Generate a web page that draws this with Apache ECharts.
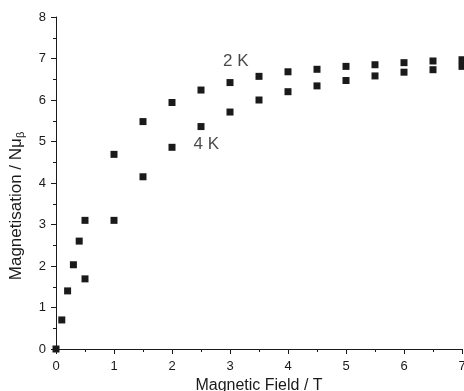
<!DOCTYPE html>
<html>
<head>
<meta charset="utf-8">
<script src="https://cdn.jsdelivr.net/npm/echarts@6/dist/echarts.min.js"></script>
<style>
  html, body { margin: 0; padding: 0; background: #fff; }
  #chart { width: 464px; height: 391px; }
</style>
</head>
<body>
<div id="chart"></div>
<script>
// field values (T) and magnetisation (N muB)
const field2K = [0, 0.1, 0.2, 0.3, 0.4, 0.5, 1, 1.5, 2, 2.5, 3, 3.5, 4, 4.5, 5, 5.5, 6, 6.5, 7];
const mag2K = [0, 0.70, 1.40, 2.03, 2.60, 3.10, 4.69, 5.48, 5.94, 6.24, 6.42, 6.57, 6.68, 6.74, 6.81, 6.85, 6.90, 6.94, 6.97];
const field4K = [0.5, 1, 1.5, 2, 2.5, 3, 3.5, 4, 4.5, 5, 5.5, 6, 6.5, 7];
const mag4K = [1.69, 3.10, 4.15, 4.86, 5.36, 5.71, 6.00, 6.20, 6.34, 6.47, 6.58, 6.67, 6.73, 6.81];
// curve labels, in data coordinates
const curveLabels = [
  { text: '2 K', x: 3.1, y: 6.93 },
  { text: '4 K', x: 2.59, y: 4.93 },
];

const FONT = 'Liberation Sans';
const INK = '#1a1a1a';

const pairs = (xs, ys) => xs.map((x, i) => [x, ys[i]]);

const axisCommon = {
  type: 'value',
  interval: 1,
  splitNumber: 2,
  axisLine: { show: true, onZero: false, lineStyle: { color: INK, width: 1 } },
  axisTick: { show: true, inside: false, length: 5, lineStyle: { color: INK } },
  minorTick: { show: true, splitNumber: 2, length: 3, lineStyle: { color: INK } },
  splitLine: { show: false },
  axisLabel: { color: INK, fontFamily: FONT, fontSize: 13 },
  nameTextStyle: { color: INK, fontFamily: FONT, fontSize: 16 },
};

const chart = echarts.init(document.getElementById('chart'));
chart.setOption({
  animation: false,
  backgroundColor: '#fff',
  grid: { left: 56, right: 2, top: 17, bottom: 42, containLabel: false, outerBoundsMode: 'none' },
  xAxis: Object.assign({}, axisCommon, {
    min: 0,
    max: 7,
    name: 'Magnetic Field / T',
    nameLocation: 'middle',
    nameGap: 25,
    axisLabel: Object.assign({}, axisCommon.axisLabel, { margin: 11 }),
  }),
  yAxis: Object.assign({}, axisCommon, {
    min: 0,
    max: 8,
    name: 'Magnetisation / Nμ{s|β}',
    nameLocation: 'middle',
    nameGap: 30,
    axisLabel: Object.assign({}, axisCommon.axisLabel, { margin: 10 }),
    nameTextStyle: Object.assign({}, axisCommon.nameTextStyle, {
      fontSize: 17,
      padding: [0, 46, 0, 0],
      rich: {
        s: { fontFamily: FONT, fontSize: 11, color: INK, verticalAlign: 'bottom', padding: [8, 0, 0, 0] },
      },
    }),
  }),
  series: [
    {
      name: '2 K',
      type: 'scatter',
      symbol: 'rect',
      symbolSize: 7,
      itemStyle: { color: INK, opacity: 1 },
      data: pairs(field2K, mag2K),
    },
    {
      name: '4 K',
      type: 'scatter',
      symbol: 'rect',
      symbolSize: 7,
      itemStyle: { color: INK, opacity: 1 },
      data: pairs(field4K, mag4K),
    },
    {
      name: 'labels',
      type: 'scatter',
      symbolSize: 0,
      silent: true,
      label: {
        show: true,
        position: 'inside',
        formatter: (p) => p.data.text,
        color: INK,
        fontFamily: FONT,
        fontSize: 17,
      },
      data: curveLabels.map((d) => ({ value: [d.x, d.y], text: d.text })),
    },
  ],
});
</script>
</body>
</html>
